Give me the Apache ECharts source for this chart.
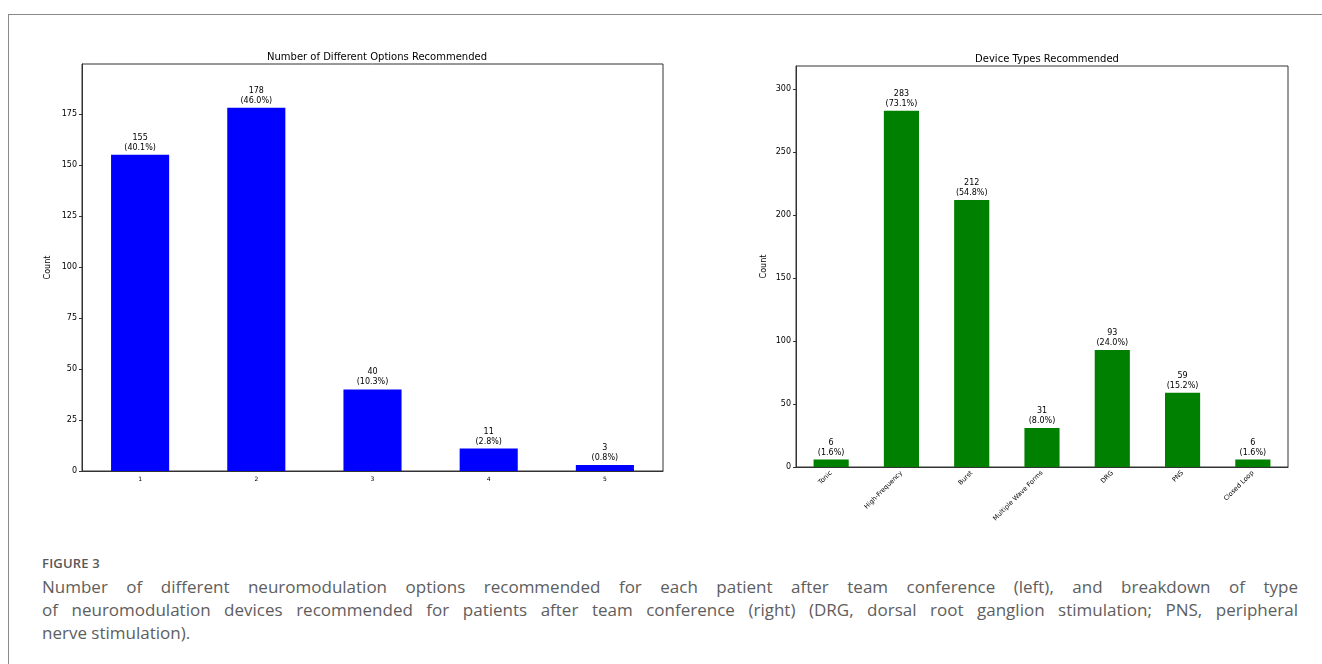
<!DOCTYPE html>
<html>
<head>
<meta charset="utf-8">
<script src="https://cdn.jsdelivr.net/npm/echarts@6/dist/echarts.min.js"></script>
<style>
  html, body { margin: 0; padding: 0; background: #fff; }
  #wrap { position: relative; width: 1322px; height: 664px; overflow: hidden; }
  #frame { position: absolute; left: 8px; top: 14px; width: 1330px; height: 700px;
           border-left: 1.5px solid #8a8a8a; border-top: 1.5px solid #8a8a8a; }
  #chart { position: absolute; left: 0; top: 0; width: 1322px; height: 540px; }
  #cap { position: absolute; left: 42px; top: 554px; width: 1256px;
         font-family: "Open Sans", "Lato", sans-serif; color: #5e5e5e; }
  #cap .fig { font-size: 13px; font-weight: 600; color: #585858; letter-spacing: 0.2px; margin-bottom: 3px; }
  #cap .ln { font-size: 17px; line-height: 23px; text-align: justify; text-align-last: justify; }
  #cap .last { font-size: 17px; line-height: 23px; }
</style>
</head>
<body>
<div id="wrap">
  <div id="frame"></div>
  <div id="chart"></div>
  <div id="cap">
    <div class="fig">FIGURE 3</div>
    <div class="ln">Number of different neuromodulation options recommended for each patient after team conference (left), and breakdown of type</div>
    <div class="ln">of neuromodulation devices recommended for patients after team conference (right) (DRG, dorsal root ganglion stimulation; PNS, peripheral</div>
    <div class="last">nerve stimulation).</div>
  </div>
</div>
<script>
const optCategories = ['1', '2', '3', '4', '5'];
const optCounts = [155, 178, 40, 11, 3];
const optPercents = ['40.1%', '46.0%', '10.3%', '2.8%', '0.8%'];
const optTicks = [0, 25, 50, 75, 100, 125, 150, 175];

const devCategories = ['Tonic', 'High-Frequency', 'Burst', 'Multiple Wave Forms', 'DRG', 'PNS', 'Closed Loop'];
const devCounts = [6, 283, 212, 31, 93, 59, 6];
const devPercents = ['1.6%', '73.1%', '54.8%', '8.0%', '24.0%', '15.2%', '1.6%'];
const devTicks = [0, 50, 100, 150, 200, 250, 300];

const FONT = 'DejaVu Sans';
const chart = echarts.init(document.getElementById('chart'));

function yAxis(gridIndex, max, ticks, nameGap) {
  return {
    type: 'value', gridIndex, min: 0, max,
    name: 'Count', nameLocation: 'middle', nameGap, nameRotate: 90,
    nameTextStyle: { fontFamily: FONT, fontSize: 8, color: '#000' },
    axisLine: { show: true, lineStyle: { color: '#333', width: 1 } },
    axisTick: { show: true, length: 3, lineStyle: { color: '#333' }, customValues: ticks },
    axisLabel: { fontFamily: FONT, fontSize: 8, color: '#000', margin: 5, customValues: ticks },
    splitLine: { show: false }
  };
}

chart.setOption({
  animation: false,
  title: [
    { text: 'Number of Different Options Recommended', left: 372, top: 47, textAlign: 'center',
      textStyle: { fontFamily: FONT, fontSize: 10, fontWeight: 'normal', color: '#000' } },
    { text: 'Device Types Recommended', left: 1042, top: 49, textAlign: 'center',
      textStyle: { fontFamily: FONT, fontSize: 10, fontWeight: 'normal', color: '#000' } }
  ],
  grid: [
    { left: 82, top: 64, width: 581, height: 407, show: true, borderColor: '#333', borderWidth: 1 },
    { left: 796, top: 66, width: 492, height: 401, show: true, borderColor: '#333', borderWidth: 1 }
  ],
  xAxis: [
    { type: 'category', gridIndex: 0, data: optCategories,
      axisLine: { lineStyle: { color: '#333' } },
      axisTick: { alignWithLabel: true, length: 3, lineStyle: { color: '#333' } },
      axisLabel: { fontFamily: FONT, fontSize: 6, color: '#000', margin: 5 } },
    { type: 'category', gridIndex: 1, data: devCategories,
      axisLine: { lineStyle: { color: '#333' } },
      axisTick: { alignWithLabel: true, length: 3, lineStyle: { color: '#333' } },
      axisLabel: { fontFamily: FONT, fontSize: 6.5, color: '#000', margin: 5, rotate: 45, interval: 0 } }
  ],
  yAxis: [
    yAxis(0, 199.5, optTicks, 30),
    yAxis(1, 318.5, devTicks, 28)
  ],
  series: [
    { type: 'bar', xAxisIndex: 0, yAxisIndex: 0, data: optCounts, barWidth: '50%',
      itemStyle: { color: '#0000ff' },
      label: { show: true, position: 'top', distance: 2, fontFamily: FONT, fontSize: 8, lineHeight: 10, color: '#000',
        formatter: p => optCounts[p.dataIndex] + '\n(' + optPercents[p.dataIndex] + ')' } },
    { type: 'bar', xAxisIndex: 1, yAxisIndex: 1, data: devCounts, barWidth: '50%',
      itemStyle: { color: '#008000' },
      label: { show: true, position: 'top', distance: 2, fontFamily: FONT, fontSize: 8, lineHeight: 10, color: '#000',
        formatter: p => devCounts[p.dataIndex] + '\n(' + devPercents[p.dataIndex] + ')' } }
  ]
});
</script>
</body>
</html>
